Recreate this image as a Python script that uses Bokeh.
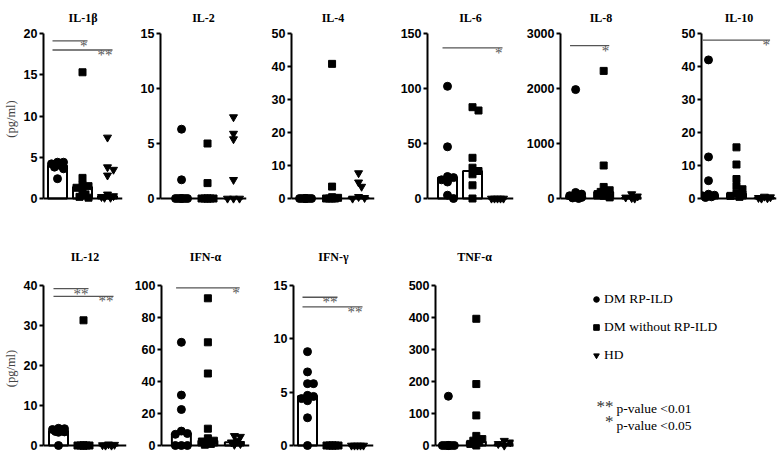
import numpy as np
from bokeh.plotting import figure
from bokeh.layouts import column, row
from bokeh.models import Range1d, FixedTicker, Legend, LegendItem, Label, Span
from bokeh.core.properties import value
from bokeh.embed import file_html
from bokeh.resources import INLINE

# ---------------- data ----------------
groups = ["DM RP-ILD", "DM without RP-ILD", "HD"]
markers = ["circle", "square", "inverted_triangle"]
marker_sizes = [8, 7, 8]

panel_names = ["IL-1β", "IL-2", "IL-4", "IL-6", "IL-8", "IL-10",
               "IL-12", "IFN-α", "IFN-γ", "TNF-α"]

il1b_rp = [4.4, 4.4, 4.2, 4.0, 3.8, 3.6, 2.4]
il1b_norp = [15.3, 2.5, 1.7, 1.5, 1.3, 1.0, 0.5, 0.2, 0.1]
il1b_hd = [7.4, 3.8, 3.5, 2.8, 0.5, 0.3, 0.2, 0.1, 0.1]
il1b_bar = [4.0, 1.4, 0.3]
il1b_ticks = [0, 5, 10, 15, 20]

il2_rp = [6.3, 1.7, 0, 0, 0, 0, 0, 0]
il2_norp = [5.0, 1.4, 0, 0, 0, 0, 0, 0]
il2_hd = [7.4, 5.9, 5.4, 1.7, 0, 0, 0]
il2_bar = [0, 0, 0]
il2_ticks = [0, 5, 10, 15]

il4_rp = [0, 0, 0, 0, 0, 0, 0, 0]
il4_norp = [40.8, 3.6, 0.4, 0.2, 0, 0, 0, 0]
il4_hd = [7.7, 4.9, 3.6, 0.5, 0.2, 0]
il4_bar = [0, 0.1, 0.4]
il4_ticks = [0, 10, 20, 30, 40, 50]

il6_rp = [102, 47, 20, 19, 17, 15, 3, 0]
il6_norp = [83, 80, 37, 28, 25, 22, 12, 0]
il6_hd = [0, 0, 0, 0, 0]
il6_bar = [19, 25, 0]
il6_ticks = [0, 50, 100, 150]

il8_rp = [1980, 110, 80, 50, 30, 20, 10, 0]
il8_norp = [2320, 600, 210, 150, 120, 100, 80, 50, 20]
il8_hd = [80, 40, 20, 10, 0]
il8_bar = [40, 120, 20]
il8_ticks = [0, 1000, 2000, 3000]

il10_rp = [42, 12.6, 5.4, 1.3, 1.0, 0.8, 0.5, 0.3]
il10_norp = [15.5, 10.3, 5.9, 3.7, 2.8, 1.5, 1.2, 0.8, 0.5]
il10_hd = [0.6, 0.4, 0.2, 0.1, 0]
il10_bar = [1.0, 1.5, 0.3]
il10_ticks = [0, 10, 20, 30, 40, 50]

il12_rp = [4.3, 4.2, 4.0, 3.7, 3.5, 3.4, 3.3, 0]
il12_norp = [31.3, 0, 0, 0, 0, 0, 0, 0]
il12_hd = [0.3, 0.2, 0.1, 0, 0]
il12_bar = [3.6, 0, 0.1]
il12_ticks = [0, 10, 20, 30, 40]

ifna_rp = [64.5, 31.5, 22.5, 9, 7.5, 7, 0, 0, 0]
ifna_norp = [92, 64.5, 45, 10.5, 4.5, 3, 2.5, 2, 1, 0.5]
ifna_hd = [6, 5.5, 3, 2, 1, 0.5]
ifna_bar = [7.5, 3, 2]
ifna_ticks = [0, 20, 40, 60, 80, 100]

ifng_rp = [8.8, 6.9, 5.8, 5.8, 4.7, 4.6, 4.4, 4.2, 2.6, 0]
ifng_norp = [0, 0, 0, 0, 0, 0]
ifng_hd = [0, 0, 0, 0, 0]
ifng_bar = [4.65, 0, 0]
ifng_ticks = [0, 5, 10, 15]

tnfa_rp = [154, 0, 0, 0, 0, 0, 0, 0]
tnfa_norp = [396, 192, 94, 30, 20, 15, 10, 5, 0]
tnfa_hd = [15, 10, 5, 0]
tnfa_bar = [0, 12, 5]
tnfa_ticks = [0, 100, 200, 300, 400, 500]

# significance brackets: (from group, to group, level, label)
il1b_sig = [(1, 2, 19.1, "*"), (1, 3, 18.0, "**")]
il6_sig = [(1, 3, 137, "*")]
il8_sig = [(1, 2, 2780, "*")]
il10_sig = [(1, 3, 48, "*")]
il12_sig = [(1, 2, 39.2, "**"), (1, 3, 37.3, "**")]
ifna_sig = [(1, 3, 98.5, "*")]
ifng_sig = [(1, 2, 13.9, "**"), (1, 3, 13.0, "**")]

note_labels = ["p-value <0.01", "p-value <0.05"]
note_stars = ["**", "*"]

panel_data = [
    (il1b_rp, il1b_norp, il1b_hd, il1b_bar, il1b_ticks, il1b_sig),
    (il2_rp, il2_norp, il2_hd, il2_bar, il2_ticks, []),
    (il4_rp, il4_norp, il4_hd, il4_bar, il4_ticks, []),
    (il6_rp, il6_norp, il6_hd, il6_bar, il6_ticks, il6_sig),
    (il8_rp, il8_norp, il8_hd, il8_bar, il8_ticks, il8_sig),
    (il10_rp, il10_norp, il10_hd, il10_bar, il10_ticks, il10_sig),
    (il12_rp, il12_norp, il12_hd, il12_bar, il12_ticks, il12_sig),
    (ifna_rp, ifna_norp, ifna_hd, ifna_bar, ifna_ticks, ifna_sig),
    (ifng_rp, ifng_norp, ifng_hd, ifng_bar, ifng_ticks, ifng_sig),
    (tnfa_rp, tnfa_norp, tnfa_hd, tnfa_bar, tnfa_ticks, []),
]

# ---------------- layout (positions / sizes) ----------------
# (x_start, x_end, border_left, frame_width, border_right)
row1_layout = [(0.44, 3.60, 40, 79, 4), (0.19, 3.50, 34, 86, 4), (0.47, 3.60, 41, 83, 4),
               (0.20, 3.64, 49, 86, 4), (0.46, 3.35, 43, 81, 4), (0.75, 3.43, 56, 75, 3)]
row2_layout = [(0.40, 3.72, 40, 83, 4), (0.25, 3.57, 31, 88, 4), (0.44, 3.64, 40, 80, 4),
               (0.54, 3.33, 58, 78, 4)]
ROW1 = dict(top=31, fh=171, ext=6, bottom=4, standoff=17)
ROW2 = dict(top=77, fh=166, ext=6, bottom=2, standoff=44)
LEGEND_W = 262

SANS = "Liberation Sans"
SERIF = "Liberation Serif"


def swarm(vals, ppu_y, step=3.0, maxoff=6.0, mind=5.0):
    placed = []
    offs = [0.0] * len(vals)
    cands = [0.0]
    k = 1
    while k * step <= maxoff + 1e-9:
        cands += [k * step, -k * step]
        k += 1
    order = sorted(range(len(vals)), key=lambda i: -vals[i])
    for i in order:
        y = vals[i] * ppu_y
        chosen = None
        bestc, bestd = 0.0, -1.0
        for c in cands:
            d = min([np.hypot(c - px, y - py) for px, py in placed], default=1e9)
            if d >= mind:
                chosen = c
                break
            if d > bestd:
                bestd, bestc = d, c
        if chosen is None:
            chosen = bestc
        placed.append((chosen, y))
        offs[i] = chosen
    return offs


def make_panel(name, data, lay, rowcfg, ylabel):
    rp, norp, hd, bar, ticks, sig = data
    xs, xe, bl, fw, br = lay
    ymax = ticks[-1]
    fh, ext = rowcfg["fh"], rowcfg["ext"]
    ppu_y = (fh - ext) / ymax
    ppu_x = fw / (xe - xs)
    ylo = -ext / ppu_y
    p = figure(frame_width=fw, frame_height=fh,
               x_range=Range1d(xs, xe), y_range=Range1d(ylo, ymax),
               min_border_left=bl, min_border_right=br,
               min_border_top=rowcfg["top"], min_border_bottom=rowcfg["bottom"],
               output_backend="svg", toolbar_location=None,
               x_axis_location=None, title=name)
    p.outline_line_color = None
    p.grid.visible = False
    p.background_fill_color = "white"
    p.border_fill_color = "white"
    p.title.align = "center"
    p.title.text_font = SERIF
    p.title.text_font_style = "bold"
    p.title.text_font_size = "12px"
    p.title.text_color = "black"
    p.title.standoff = rowcfg["standoff"]

    ax = p.yaxis[0]
    ax.ticker = FixedTicker(ticks=ticks)
    ax.bounds = (0, ymax)
    ax.axis_line_width = 2
    ax.axis_line_color = "black"
    ax.major_tick_line_width = 2
    ax.major_tick_line_color = "black"
    ax.major_tick_out = 4
    ax.major_tick_in = 0
    ax.minor_tick_line_color = None
    ax.major_label_text_font = SANS
    ax.major_label_text_font_style = "bold"
    ax.major_label_text_font_size = "12.5px"
    ax.major_label_text_color = "black"
    ax.major_label_standoff = 2
    if ylabel:
        ax.axis_label = ylabel
        ax.axis_label_text_font = SERIF
        ax.axis_label_text_font_style = "normal"
        ax.axis_label_text_font_size = "12.5px"
        ax.axis_label_standoff = 3

    # bars (medians)
    p.vbar(x=[1, 2, 3], top=bar, bottom=0, width=19 / ppu_x,
           fill_color="white", line_color="black", line_width=2)

    # x axis line at zero
    p.add_layout(Span(location=0, dimension="width", line_color="black", line_width=2))

    for g, vals in enumerate([rp, norp, hd]):
        offs = swarm(vals, ppu_y)
        xsv = [g + 1 + o / ppu_x for o in offs]
        p.scatter(x=xsv, y=vals, marker=markers[g], size=marker_sizes[g],
                  fill_color="black", line_color="black")

    for (g0, g1, lvl, lab) in sig:
        x0 = g0 - 0.2
        x1 = g1 + 0.2
        p.segment(x0=[x0], y0=[lvl], x1=[x1], y1=[lvl], line_color="#555555", line_width=1.3)
        p.text(x=[x1], y=[lvl], text=[lab], text_align="right", text_baseline="alphabetic",
               text_font=value(SERIF), text_font_size="15px", text_color="#555555",
               y_offset=5)
    return p


row1 = []
for i in range(6):
    row1.append(make_panel(panel_names[i], panel_data[i], row1_layout[i], ROW1,
                           "(pg/ml)" if i == 0 else None))

row2 = []
for j in range(4):
    i = 6 + j
    row2.append(make_panel(panel_names[i], panel_data[i], row2_layout[j], ROW2,
                           "(pg/ml)" if j == 0 else None))

# legend panel (its frame lines up with the other frames of the row)
pl = figure(frame_width=LEGEND_W, frame_height=ROW2["fh"],
            x_range=Range1d(0, 1), y_range=Range1d(0, 1),
            min_border_left=0, min_border_right=0,
            min_border_top=ROW2["top"], min_border_bottom=ROW2["bottom"],
            output_backend="svg", toolbar_location=None,
            x_axis_location=None, y_axis_location=None)
pl.outline_line_color = None
pl.grid.visible = False
leg_rends = []
for k in range(3):
    # placeholder rows (NaN, not drawn) so that the legend can show each marker
    leg_rends.append(pl.scatter(x=[np.nan], y=[np.nan], marker=markers[k], size=marker_sizes[k],
                                fill_color="black", line_color="black"))
legend = Legend(items=[LegendItem(label=groups[k], renderers=[leg_rends[k]]) for k in range(3)],
                location=(72, 88), orientation="vertical",
                border_line_color=None, background_fill_alpha=0,
                padding=0, margin=0, spacing=12,
                glyph_width=14, glyph_height=14, label_height=14, label_standoff=1,
                label_text_font=SERIF, label_text_font_size="13.5px", label_text_color="black")
pl.add_layout(legend)

note_y = [43, 26]
star_y = [45, 30]
for k in range(2):
    pl.add_layout(Label(x=96, y=star_y[k], x_units="screen", y_units="screen",
                        text=note_stars[k], text_align="right", text_baseline="middle",
                        text_font=SERIF, text_font_size="17px", text_color="#333333"))
    pl.add_layout(Label(x=99, y=note_y[k], x_units="screen", y_units="screen",
                        text=note_labels[k], text_baseline="middle",
                        text_font=SERIF, text_font_size="13.5px", text_color="black"))

layout = column(row(*row1, spacing=0), row(*row2, pl, spacing=0), spacing=0)
open("out.html", "w").write(file_html(layout, INLINE))
